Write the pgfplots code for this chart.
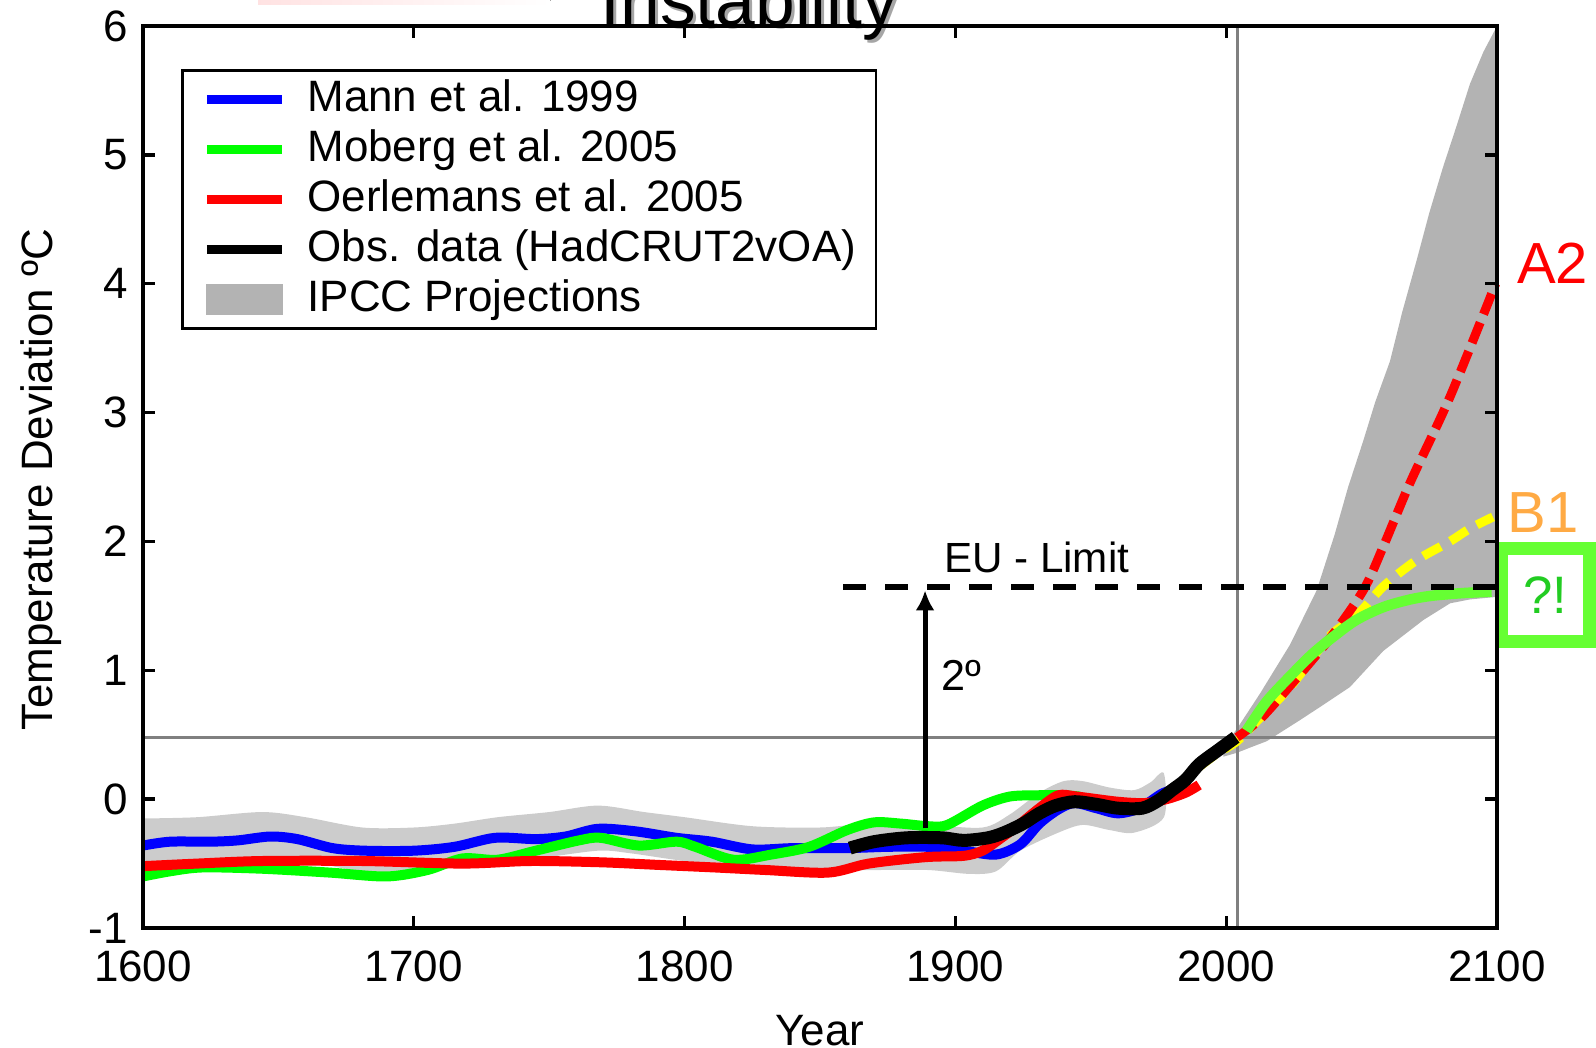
\documentclass[border=0pt]{standalone}
\usepackage{fontspec}
\setmainfont{Liberation Sans}
\usepackage{pgfplots}
\usepackage{pgfplotstable}
\pgfplotsset{compat=1.18}
\usetikzlibrary{arrows.meta}

\definecolor{mannblue}{RGB}{0,0,255}
\definecolor{mobgreen}{RGB}{0,255,0}
\definecolor{oerred}{RGB}{255,0,0}
\definecolor{bandgray}{RGB}{204,204,204}
\definecolor{ipccgray}{RGB}{179,179,179}
\definecolor{refline}{RGB}{128,128,128}
\definecolor{qgreen}{RGB}{102,255,51}
\definecolor{qtext}{RGB}{34,204,34}
\definecolor{borange}{RGB}{255,170,68}
\definecolor{byellow}{RGB}{255,255,0}

% reconstructions
\pgfplotstableread{
year temp
1600 -0.36
1610 -0.33
1625 -0.33
1635 -0.32
1647 -0.29
1657 -0.31
1670 -0.38
1682 -0.40
1700 -0.40
1715 -0.37
1730 -0.30
1745 -0.31
1756 -0.29
1768 -0.23
1782 -0.25
1797 -0.30
1810 -0.33
1825 -0.39
1840 -0.38
1860 -0.38
1875 -0.37
1890 -0.37
1903 -0.40
1915 -0.43
1924 -0.35
1931 -0.19
1938 -0.08
1944 -0.03
1952 -0.07
1960 -0.11
1968 -0.07
1976 0.04
1980 0.07
}\mann

\pgfplotstableread{
year temp
1600 -0.60
1610 -0.56
1622 -0.53
1644 -0.54
1669 -0.57
1690 -0.60
1705 -0.55
1718 -0.46
1731 -0.47
1745 -0.40
1761 -0.32
1769 -0.30
1783 -0.36
1797 -0.33
1804 -0.37
1818 -0.47
1832 -0.43
1846 -0.37
1860 -0.24
1870 -0.18
1880 -0.19
1890 -0.21
1897 -0.20
1910 -0.05
1920 0.02
1930 0.03
1940 0.03
1946 0.02
}\moberg

\pgfplotstableread{
year temp
1600 -0.52
1620 -0.50
1644 -0.48
1681 -0.48
1718 -0.50
1743 -0.48
1769 -0.49
1790 -0.51
1811 -0.53
1830 -0.55
1853 -0.57
1868 -0.50
1889 -0.45
1903 -0.44
1910 -0.40
1917 -0.30
1924 -0.19
1931 -0.07
1938 0.03
1945 0.02
1960 -0.02
1970 -0.03
1978 0.00
1985 0.05
1990 0.11
}\oerlemans

\pgfplotstableread{
year temp
1861 -0.38
1870 -0.33
1882 -0.30
1895 -0.30
1903 -0.32
1912 -0.30
1918 -0.26
1925 -0.19
1931 -0.11
1937 -0.05
1944 -0.02
1952 -0.04
1960 -0.07
1969 -0.07
1975 -0.01
1980 0.07
1985 0.15
1990 0.27
1997 0.38
2003.5 0.48
}\obs

% uncertainty band round the reconstructions (upper edge, then lower edge back)
\pgfplotstableread{
year temp
1600 -0.15
1620 -0.14
1644 -0.10
1660 -0.14
1681 -0.22
1700 -0.22
1715 -0.19
1731 -0.14
1750 -0.10
1768 -0.05
1785 -0.10
1800 -0.14
1825 -0.21
1850 -0.22
1868 -0.19
1890 -0.20
1910 -0.22
1920 -0.12
1931 0.05
1940 0.14
1947 0.14
1957 0.09
1966 0.07
1972 0.13
1977 0.20
1977 -0.14
1966 -0.26
1957 -0.24
1947 -0.20
1938 -0.26
1924 -0.40
1915 -0.56
1905 -0.58
1890 -0.55
1870 -0.55
1850 -0.55
1825 -0.53
1800 -0.48
1780 -0.42
1768 -0.40
1745 -0.46
1731 -0.46
1700 -0.56
1681 -0.56
1660 -0.48
1644 -0.45
1620 -0.48
1600 -0.50
}\band

% IPCC projection range
\pgfplotstableread{
year temp
1999 0.40
2004.4 0.56
2012.5 0.82
2023.6 1.20
2033.4 1.62
2040 2.05
2045 2.42
2050.6 2.78
2055 3.08
2060.5 3.40
2065 3.78
2070.3 4.18
2075 4.55
2080 4.90
2085 5.22
2090 5.55
2095 5.80
2100 6.00
2100 1.57
2090 1.55
2082.7 1.52
2072.8 1.39
2058 1.15
2045.7 0.87
2035 0.72
2027 0.61
2015 0.45
2008.8 0.40
2004 0.36
1999 0.33
}\ipcc

\pgfplotstableread{
year temp
2004 0.48
2012.5 0.62
2023.6 0.88
2038 1.24
2050.6 1.62
2058 1.96
2068 2.46
2082.6 3.12
2099.5 4.00
}\atwo

\pgfplotstableread{
year temp
1990 0.25
1997 0.36
2004 0.45
2012 0.62
2024 0.88
2038 1.26
2048 1.42
2058 1.65
2070 1.85
2082.6 2.00
2090 2.10
2098.5 2.19
}\bone

\pgfplotstableread{
year temp
2007.5 0.53
2015 0.76
2024.8 0.98
2032 1.13
2039.5 1.26
2048 1.39
2058 1.49
2068 1.55
2076.6 1.58
2088 1.60
2098 1.61
}\stab

\begin{document}
\begin{tikzpicture}
\begin{axis}[
    scale only axis,
    width=13.54cm, height=9.02cm,
    xmin=1600, xmax=2100, ymin=-1, ymax=6,
    xtick={1600,1700,...,2100},
    ytick={-1,0,...,6},
    tick align=inside, tick pos=both,
    major tick length=1.2mm,
    axis line style={line width=0.95pt},
    every tick/.style={black, line width=0.95pt},
    axis on top,
    clip=false,
    ticklabel style={font=\fontsize{12.5}{15}\selectfont},
    /pgf/number format/assume math mode=true,
    /pgf/number format/1000 sep={},
    xticklabel style={yshift=-1mm},
    yticklabel style={xshift=-0.3mm},
    xlabel={Year},
    ylabel={Temperature Deviation ºC},
    every axis x label/.style={at={(axis description cs:0.5,0)}, anchor=base, yshift=-11.7mm,
      font=\fontsize{12.5}{15}\selectfont},
    every axis y label/.style={at={(axis description cs:-0.0672,0.497)}, anchor=base, rotate=90,
      font=\fontsize{12.5}{15}\selectfont},
    legend style={
      at={(0.0281,0.9523)}, anchor=north west,
      draw=black, line width=0.75pt, fill=white,
      inner xsep=2.0mm, inner ysep=0.4mm,
      font=\fontsize{12.5}{15}\selectfont,
      nodes={inner xsep=0pt, inner ysep=0.4mm, text height=3.3mm, text depth=0.9mm},
      /tikz/every odd column/.append style={column sep=2.1mm},
    },
    legend cell align=left,
    legend image code/.code={\draw[#1, line width=2.6pt] (0cm,0cm) -- (0.75cm,0cm);},
    ipccleg/.style={legend image code/.code={\fill[ipccgray] (0cm,-1.4mm) rectangle (0.75cm,1.4mm);}},
]
% shaded ranges
\addplot[forget plot, smooth, fill=bandgray, draw=none] table {\band};
\addplot[forget plot, fill=ipccgray, draw=none] table {\ipcc};

% reference lines
\addplot[forget plot, refline, line width=0.85pt] coordinates {(1600,0.48) (2100,0.48)};
\addplot[forget plot, refline, line width=0.85pt] coordinates {(2004,-1) (2004,6)};

% reconstructions and observations
\addplot[forget plot, smooth, mannblue, line width=1mm] table {\mann};
\addplot[forget plot, smooth, mobgreen, line width=1mm] table {\moberg};
\addplot[forget plot, smooth, oerred, line width=1mm] table {\oerlemans};

% scenarios
\addplot[forget plot, smooth, byellow, line width=0.9mm, dash pattern=on 2mm off 1.1mm] table {\bone};
\addplot[forget plot, smooth, oerred, line width=0.9mm, dash pattern=on 2.2mm off 0.9mm] table {\atwo};
\addplot[forget plot, smooth, qgreen, line width=1.05mm] table {\stab};

\addplot[forget plot, smooth, black, line width=1.3mm] table {\obs};

% EU limit and the 2 degree arrow
\addplot[forget plot, black, line width=0.6mm, dash pattern=on 2.3mm off 1.9mm] coordinates {(1858.5,1.65) (2100,1.65)};
\addplot[forget plot, black, line width=0.5mm, -{Latex[length=2mm,width=1.9mm]}] coordinates {(1888.8,-0.227) (1888.8,1.62)};

\node[anchor=base, font=\fontsize{12}{14}\selectfont] at (axis cs:1930,1.76) {EU - Limit};
\node[anchor=base west, inner sep=0pt, font=\fontsize{12.3}{14}\selectfont] at (axis cs:1894.5,0.845) {2º};

\node[oerred, font=\fontsize{16.5}{19}\selectfont] at (axis cs:2120.5,4.159) {A2};
\node[borange, font=\fontsize{16.5}{19}\selectfont] at (axis cs:2117,2.221) {B1};
\node[draw=qgreen, line width=1.3mm, minimum width=8.8mm, minimum height=9.3mm, inner sep=0pt,
      text=qtext, font=\fontsize{15}{18}\selectfont] at (axis cs:2117.9,1.581) {?!};

% cut-off slide title
\fill[left color=pink!45, right color=white] (rel axis cs:0.085,1.0244) rectangle (rel axis cs:0.301,1.031);
\node[anchor=base west, inner sep=0pt, black!35, font=\fontsize{20.3}{24}\selectfont, xshift=0.3mm, yshift=-0.3mm]
  at (rel axis cs:0.3375,1.0011) {Instability};
\node[anchor=base west, inner sep=0pt, font=\fontsize{20.3}{24}\selectfont]
  at (rel axis cs:0.3375,1.0011) {Instability};

\addlegendimage{mannblue}
\addlegendentry{Mann et al. 1999}
\addlegendimage{mobgreen}
\addlegendentry{Moberg et al. 2005}
\addlegendimage{oerred}
\addlegendentry{Oerlemans et al. 2005}
\addlegendimage{black}
\addlegendentry{Obs. data (HadCRUT2vOA)}
\addlegendimage{ipccleg}
\addlegendentry{IPCC Projections}
\end{axis}
\pgfresetboundingbox
\path (-1.43cm,-1.19cm) rectangle (14.53cm,9.28cm);
\end{tikzpicture}
\end{document}
